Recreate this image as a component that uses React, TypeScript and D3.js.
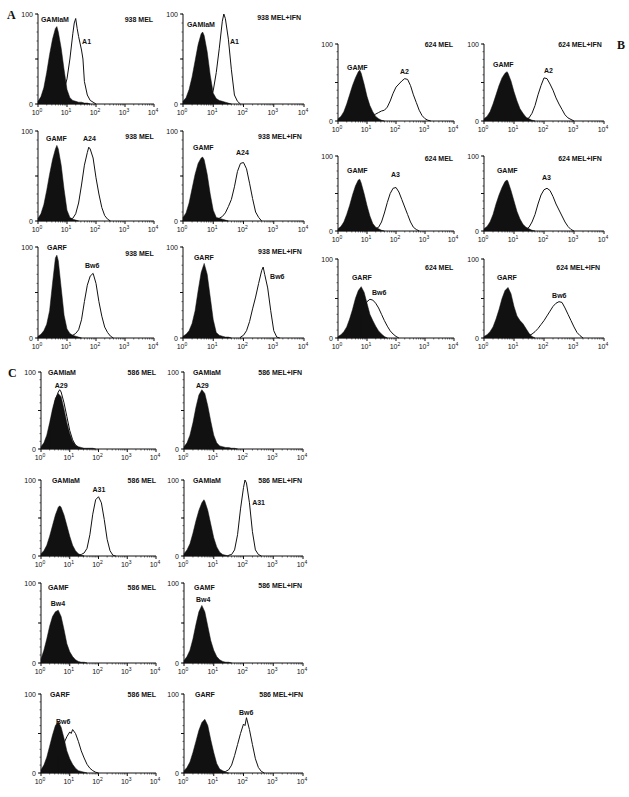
import React from "react";
import * as d3 from "d3";

type Pt = [number, number]; // [log10 fluorescence, % of max]

// ---------- Panel A: 938 MEL ----------
const a1Fill: Pt[] = [[0,3],[0.1,8],[0.2,18],[0.3,35],[0.4,55],[0.5,72],[0.6,84],[0.65,86],[0.7,80],[0.8,62],[0.9,38],[1.0,16],[1.1,7],[1.2,4],[1.3,3],[1.4,2],[1.5,2],[1.6,1],[1.7,1],[1.8,0]];
const a1Open: Pt[] = [[0.6,2],[0.7,4],[0.8,8],[0.9,16],[1.0,28],[1.1,50],[1.2,78],[1.25,90],[1.3,95],[1.35,84],[1.4,75],[1.5,60],[1.55,50],[1.6,25],[1.7,10],[1.8,4],[1.9,2],[2.0,0]];
const a2Fill: Pt[] = [[0,3],[0.1,7],[0.2,16],[0.3,30],[0.4,48],[0.5,66],[0.6,78],[0.65,80],[0.7,76],[0.8,58],[0.9,32],[1.0,12],[1.1,6],[1.2,4],[1.3,3],[1.4,2],[1.5,1],[1.6,0]];
const a2Open: Pt[] = [[0.8,2],[0.9,6],[1.0,15],[1.1,35],[1.2,62],[1.3,92],[1.35,100],[1.4,95],[1.5,72],[1.6,38],[1.7,10],[1.8,3],[1.9,0]];
const a3Fill: Pt[] = [[0,3],[0.1,8],[0.2,18],[0.3,34],[0.4,52],[0.5,68],[0.6,80],[0.65,84],[0.7,80],[0.8,62],[0.9,35],[1.0,12],[1.1,4],[1.2,2],[1.3,1],[1.4,0]];
const a3Open: Pt[] = [[1.0,1],[1.1,2],[1.2,3],[1.3,8],[1.4,20],[1.5,40],[1.6,62],[1.7,76],[1.75,82],[1.8,80],[1.9,70],[2.0,48],[2.1,30],[2.2,15],[2.3,6],[2.4,2],[2.5,0]];
const a4Fill: Pt[] = [[0,4],[0.1,9],[0.2,20],[0.3,36],[0.4,52],[0.5,64],[0.6,70],[0.65,71],[0.7,68],[0.8,52],[0.9,30],[1.0,12],[1.1,4],[1.2,3],[1.3,2],[1.4,1],[1.5,0]];
const a4Open: Pt[] = [[1.1,2],[1.2,3],[1.3,5],[1.4,9],[1.5,16],[1.6,24],[1.7,38],[1.8,55],[1.9,64],[2.0,65],[2.1,58],[2.2,42],[2.3,25],[2.4,10],[2.5,4],[2.6,0]];
const a5Fill: Pt[] = [[0,2],[0.1,4],[0.2,8],[0.3,15],[0.4,30],[0.5,60],[0.6,88],[0.65,91],[0.7,85],[0.8,55],[0.9,25],[1.0,10],[1.1,5],[1.2,3],[1.3,2],[1.4,1],[1.5,0]];
const a5Open: Pt[] = [[1.1,2],[1.2,3],[1.3,5],[1.4,9],[1.5,20],[1.6,40],[1.7,58],[1.8,68],[1.9,71],[2.0,60],[2.1,40],[2.2,24],[2.3,12],[2.4,6],[2.5,2],[2.6,0]];
const a6Fill: Pt[] = [[0,2],[0.1,4],[0.2,8],[0.3,16],[0.4,30],[0.5,52],[0.6,72],[0.7,82],[0.8,70],[0.9,45],[1.0,20],[1.1,6],[1.2,3],[1.3,2],[1.4,1],[1.5,1],[1.6,0]];
const a6Open: Pt[] = [[1.9,1],[2.0,3],[2.1,8],[2.2,18],[2.3,32],[2.4,45],[2.5,60],[2.6,74],[2.65,78],[2.7,70],[2.8,55],[2.9,30],[3.0,8],[3.1,1],[3.2,0]];

// ---------- Panel B: 624 MEL ----------
const b1Fill: Pt[] = [[0,3],[0.1,6],[0.2,12],[0.3,22],[0.4,34],[0.5,46],[0.6,56],[0.7,64],[0.75,66],[0.8,62],[0.9,48],[1.0,32],[1.1,20],[1.2,12],[1.3,6],[1.4,3],[1.5,1],[1.6,0]];
const b1Open: Pt[] = [[1.2,6],[1.3,9],[1.4,11],[1.5,13],[1.6,14],[1.7,18],[1.8,26],[1.9,36],[2.0,44],[2.1,48],[2.2,52],[2.3,55],[2.4,54],[2.5,46],[2.6,34],[2.7,24],[2.8,14],[2.9,7],[3.0,3],[3.1,1],[3.2,0]];
const b2Fill: Pt[] = [[0,3],[0.1,6],[0.2,12],[0.3,22],[0.4,34],[0.5,46],[0.6,56],[0.7,62],[0.77,64],[0.8,62],[0.9,52],[1.0,38],[1.1,26],[1.2,16],[1.3,10],[1.4,5],[1.5,3],[1.6,1],[1.7,0]];
const b2Open: Pt[] = [[1.4,2],[1.5,4],[1.6,10],[1.7,20],[1.8,34],[1.9,46],[2.0,56],[2.1,55],[2.2,48],[2.3,40],[2.4,30],[2.5,22],[2.6,15],[2.7,8],[2.8,4],[2.9,2],[3.0,0]];
const b3Fill: Pt[] = [[0,3],[0.1,6],[0.2,12],[0.3,22],[0.4,34],[0.5,48],[0.6,60],[0.7,68],[0.75,69],[0.8,64],[0.9,50],[1.0,34],[1.1,20],[1.2,10],[1.3,5],[1.4,3],[1.5,1],[1.6,0]];
const b3Open: Pt[] = [[1.3,3],[1.4,5],[1.5,12],[1.6,24],[1.7,38],[1.8,50],[1.9,57],[2.0,58],[2.1,52],[2.2,42],[2.3,32],[2.4,22],[2.5,12],[2.6,5],[2.7,2],[2.8,0]];
const b4Fill: Pt[] = [[0,3],[0.1,6],[0.2,12],[0.3,22],[0.4,36],[0.5,48],[0.6,58],[0.7,66],[0.77,68],[0.8,66],[0.9,54],[1.0,40],[1.1,26],[1.2,16],[1.3,9],[1.4,5],[1.5,3],[1.6,1],[1.7,0]];
const b4Open: Pt[] = [[1.4,2],[1.5,5],[1.6,12],[1.7,22],[1.8,36],[1.9,48],[2.0,55],[2.1,57],[2.2,54],[2.3,46],[2.4,36],[2.5,28],[2.6,20],[2.7,12],[2.8,6],[2.9,2],[3.0,0]];
const b5Fill: Pt[] = [[0,2],[0.1,4],[0.2,8],[0.3,14],[0.4,24],[0.5,36],[0.6,50],[0.7,60],[0.8,65],[0.9,58],[1.0,44],[1.1,30],[1.2,22],[1.3,15],[1.4,9],[1.5,5],[1.6,2],[1.7,0]];
const b5Open: Pt[] = [[0.8,30],[0.9,40],[1.0,46],[1.1,49],[1.2,48],[1.3,44],[1.4,38],[1.5,30],[1.6,22],[1.7,15],[1.8,9],[1.9,5],[2.0,2],[2.1,0]];
const b6Fill: Pt[] = [[0,2],[0.1,4],[0.2,8],[0.3,14],[0.4,24],[0.5,36],[0.6,50],[0.7,60],[0.8,64],[0.9,56],[1.0,40],[1.1,28],[1.2,22],[1.3,18],[1.4,12],[1.5,6],[1.6,2],[1.7,0]];
const b6Open: Pt[] = [[1.5,3],[1.6,5],[1.7,8],[1.8,12],[1.9,17],[2.0,22],[2.1,28],[2.2,34],[2.3,40],[2.4,44],[2.5,46],[2.6,45],[2.7,38],[2.8,30],[2.9,22],[3.0,14],[3.1,7],[3.2,3],[3.3,0]];

// ---------- Panel C: 586 MEL ----------
const c1Fill: Pt[] = [[0,3],[0.1,8],[0.2,18],[0.3,34],[0.4,52],[0.5,66],[0.6,72],[0.7,68],[0.8,52],[0.9,34],[1.0,20],[1.1,10],[1.2,5],[1.3,3],[1.4,2],[1.5,1],[1.6,1],[1.7,1],[1.8,1],[1.9,0]];
const c1Open: Pt[] = [[0.3,28],[0.4,46],[0.5,64],[0.6,74],[0.65,77],[0.7,74],[0.8,60],[0.9,42],[1.0,24],[1.1,12],[1.2,5],[1.3,2],[1.4,0]];
const c2Fill: Pt[] = [[0,3],[0.1,8],[0.2,18],[0.3,34],[0.4,54],[0.5,70],[0.6,77],[0.7,72],[0.8,56],[0.9,36],[1.0,18],[1.1,8],[1.2,4],[1.3,3],[1.4,2],[1.5,2],[1.6,1],[1.7,1],[1.8,0]];
const c3Fill: Pt[] = [[0,3],[0.1,7],[0.2,14],[0.3,26],[0.4,40],[0.5,54],[0.6,64],[0.65,66],[0.7,64],[0.8,54],[0.9,40],[1.0,26],[1.1,14],[1.2,7],[1.3,3],[1.4,1],[1.5,0]];
const c3Open: Pt[] = [[1.3,1],[1.4,2],[1.5,4],[1.6,10],[1.7,28],[1.8,55],[1.9,74],[2.0,78],[2.1,70],[2.2,48],[2.3,22],[2.4,7],[2.5,1],[2.6,0]];
const c4Fill: Pt[] = [[0,3],[0.1,8],[0.2,16],[0.3,30],[0.4,46],[0.5,60],[0.6,70],[0.67,74],[0.7,72],[0.8,60],[0.9,42],[1.0,24],[1.1,12],[1.2,5],[1.3,2],[1.4,1],[1.5,0]];
const c4Open: Pt[] = [[1.5,1],[1.6,2],[1.7,8],[1.8,28],[1.9,62],[2.0,90],[2.05,100],[2.1,96],[2.2,70],[2.3,32],[2.4,8],[2.5,2],[2.6,0]];
const c5Fill: Pt[] = [[0,5],[0.1,16],[0.2,30],[0.3,46],[0.4,58],[0.5,64],[0.6,66],[0.7,58],[0.8,42],[0.9,24],[1.0,14],[1.1,8],[1.2,4],[1.3,2],[1.4,1],[1.5,1],[1.6,0]];
const c6Fill: Pt[] = [[0,3],[0.1,8],[0.2,16],[0.3,30],[0.4,48],[0.5,64],[0.6,72],[0.7,64],[0.8,46],[0.9,28],[1.0,16],[1.1,8],[1.2,4],[1.3,2],[1.4,1],[1.5,1],[1.6,0]];
const c7Fill: Pt[] = [[0,4],[0.1,10],[0.2,20],[0.3,34],[0.4,48],[0.5,60],[0.6,65],[0.7,58],[0.8,44],[0.9,28],[1.0,18],[1.1,11],[1.2,6],[1.3,3],[1.4,2],[1.5,1],[1.6,0]];
const c7Open: Pt[] = [[0.6,20],[0.7,28],[0.8,38],[0.9,46],[1.0,52],[1.05,50],[1.1,55],[1.2,50],[1.3,40],[1.4,28],[1.5,19],[1.6,11],[1.7,6],[1.8,3],[1.9,1],[2.0,0]];
const c8Fill: Pt[] = [[0,3],[0.1,7],[0.2,14],[0.3,26],[0.4,40],[0.5,54],[0.6,64],[0.7,68],[0.8,60],[0.9,42],[1.0,26],[1.1,12],[1.2,5],[1.3,3],[1.4,1],[1.5,0]];
const c8Open: Pt[] = [[1.3,1],[1.4,2],[1.5,4],[1.6,10],[1.7,22],[1.8,36],[1.9,50],[2.0,62],[2.05,60],[2.1,70],[2.2,55],[2.3,36],[2.4,18],[2.5,7],[2.6,2],[2.7,0]];

const xTickExps = [0, 1, 2, 3, 4];
const yTickVals = [0, 50, 100];
const yTickLabels = ["0", "", "100"];

type Lab = { t: string; lx: number; py: number; end?: boolean };
type Panel = { x0: number; x1: number; top: number; base: number; fill: Pt[]; open: Pt[] | null; labels: Lab[] };

const colA = [[38, 154], [183, 304]];
const rowA = [[14, 104], [131, 221], [247, 338]];
const colB = [[338, 454], [484, 604]];
const rowB = [[44, 121], [156, 231], [259, 338]];
const colC = [[41, 156], [184, 303]];
const rowC = [[372, 449], [480, 556], [583, 663], [694, 773]];

const mk = (c: number[], r: number[], fill: Pt[], open: Pt[] | null, labels: Lab[]): Panel => ({ x0: c[0], x1: c[1], top: r[0], base: r[1], fill, open, labels });

const PANELS: Panel[] = [
  mk(colA[0], rowA[0], a1Fill, a1Open, [{ t: "GAMIaM", lx: 0.1, py: 94 }, { t: "A1", lx: 1.52, py: 69 }, { t: "938 MEL", lx: 3.97, py: 94, end: true }]),
  mk(colA[1], rowA[0], a2Fill, a2Open, [{ t: "GAMIaM", lx: 0.13, py: 88 }, { t: "A1", lx: 1.55, py: 69 }, { t: "938 MEL+IFN", lx: 3.9, py: 96, end: true }]),
  mk(colA[0], rowA[1], a3Fill, a3Open, [{ t: "GAMF", lx: 0.28, py: 92 }, { t: "A24", lx: 1.55, py: 92 }, { t: "938 MEL", lx: 3.99, py: 94, end: true }]),
  mk(colA[1], rowA[1], a4Fill, a4Open, [{ t: "GAMF", lx: 0.33, py: 82 }, { t: "A24", lx: 1.75, py: 76 }, { t: "938 MEL+IFN", lx: 3.93, py: 94, end: true }]),
  mk(colA[0], rowA[2], a5Fill, a5Open, [{ t: "GARF", lx: 0.31, py: 99 }, { t: "Bw6", lx: 1.62, py: 80 }, { t: "938 MEL", lx: 3.99, py: 93, end: true }]),
  mk(colA[1], rowA[2], a6Fill, a6Open, [{ t: "GARF", lx: 0.36, py: 88 }, { t: "Bw6", lx: 2.88, py: 68 }, { t: "938 MEL+IFN", lx: 3.93, py: 95, end: true }]),
  mk(colB[0], rowB[0], b1Fill, b1Open, [{ t: "GAMF", lx: 0.31, py: 70 }, { t: "A2", lx: 2.14, py: 64 }, { t: "624 MEL", lx: 3.97, py: 99, end: true }]),
  mk(colB[1], rowB[0], b2Fill, b2Open, [{ t: "GAMF", lx: 0.3, py: 73 }, { t: "A2", lx: 2.0, py: 65 }, { t: "624 MEL+IFN", lx: 3.93, py: 99, end: true }]),
  mk(colB[0], rowB[1], b3Fill, b3Open, [{ t: "GAMF", lx: 0.31, py: 81 }, { t: "A3", lx: 1.83, py: 75 }, { t: "624 MEL", lx: 3.97, py: 97, end: true }]),
  mk(colB[1], rowB[1], b4Fill, b4Open, [{ t: "GAMF", lx: 0.43, py: 81 }, { t: "A3", lx: 1.93, py: 71 }, { t: "624 MEL+IFN", lx: 3.93, py: 97, end: true }]),
  mk(colB[0], rowB[2], b5Fill, b5Open, [{ t: "GARF", lx: 0.48, py: 76 }, { t: "Bw6", lx: 1.17, py: 58 }, { t: "624 MEL", lx: 3.98, py: 89, end: true }]),
  mk(colB[1], rowB[2], b6Fill, b6Open, [{ t: "GARF", lx: 0.43, py: 76 }, { t: "Bw6", lx: 2.27, py: 54 }, { t: "624 MEL+IFN", lx: 3.87, py: 89, end: true }]),
  mk(colC[0], rowC[0], c1Fill, c1Open, [{ t: "GAMIaM", lx: 0.24, py: 100 }, { t: "A29", lx: 0.48, py: 82 }, { t: "586 MEL", lx: 4.0, py: 100, end: true }]),
  mk(colC[1], rowC[0], c2Fill, null, [{ t: "GAMIaM", lx: 0.3, py: 100 }, { t: "A29", lx: 0.4, py: 82 }, { t: "586 MEL+IFN", lx: 3.97, py: 100, end: true }]),
  mk(colC[0], rowC[1], c3Fill, c3Open, [{ t: "GAMIaM", lx: 0.38, py: 100 }, { t: "A31", lx: 1.79, py: 88 }, { t: "586 MEL", lx: 4.0, py: 100, end: true }]),
  mk(colC[1], rowC[1], c4Fill, c4Open, [{ t: "GAMIaM", lx: 0.3, py: 100 }, { t: "A31", lx: 2.29, py: 70 }, { t: "586 MEL+IFN", lx: 3.97, py: 100, end: true }]),
  mk(colC[0], rowC[2], c5Fill, null, [{ t: "GAMF", lx: 0.24, py: 95 }, { t: "Bw4", lx: 0.34, py: 74 }, { t: "586 MEL", lx: 4.0, py: 95, end: true }]),
  mk(colC[1], rowC[2], c6Fill, null, [{ t: "GAMF", lx: 0.34, py: 95 }, { t: "Bw4", lx: 0.4, py: 80 }, { t: "586 MEL+IFN", lx: 3.97, py: 97, end: true }]),
  mk(colC[0], rowC[3], c7Fill, c7Open, [{ t: "GARF", lx: 0.31, py: 100 }, { t: "Bw6", lx: 0.52, py: 65 }, { t: "586 MEL", lx: 4.0, py: 100, end: true }]),
  mk(colC[1], rowC[3], c8Fill, c8Open, [{ t: "GARF", lx: 0.37, py: 100 }, { t: "Bw6", lx: 1.85, py: 77 }, { t: "586 MEL+IFN", lx: 4.0, py: 100, end: true }]),
];

const SANS = "'Liberation Sans', Arial, sans-serif";
const SERIF = "'Liberation Serif', 'Times New Roman', serif";

function Hist({ p }: { p: Panel }) {
  const xs = d3.scaleLog().domain([1, 10000]).range([p.x0, p.x1]);
  const ys = d3.scaleLinear().domain([0, 100]).range([p.base, p.top]);
  const area = d3.area<Pt>().x(d => xs(Math.pow(10, d[0]))).y0(p.base).y1(d => ys(d[1]));
  const line = d3.line<Pt>().x(d => xs(Math.pow(10, d[0]))).y(d => ys(d[1]));
  const openPts: Pt[] | null = p.open ? [[p.open[0][0], 0], ...p.open] : null;
  const minor: number[] = [];
  for (let e = 0; e < 4; e++) for (let m = 2; m <= 9; m++) minor.push(m * Math.pow(10, e));
  const yMinor = d3.range(0, 101, 10);
  return (
    <g>
      <path d={area(p.fill) || ""} fill="#111" stroke="#111" strokeWidth={0.5} />
      {openPts && <path d={line(openPts) || ""} fill="none" stroke="#111" strokeWidth={1} />}
      {/* axes */}
      <line x1={p.x0} x2={p.x1} y1={p.base} y2={p.base} stroke="#111" strokeWidth={1} />
      <line x1={p.x0} x2={p.x0} y1={p.base} y2={p.top} stroke="#111" strokeWidth={1} />
      {xTickExps.map(e => (
        <g key={"xt" + e}>
          <line x1={xs(Math.pow(10, e))} x2={xs(Math.pow(10, e))} y1={p.base} y2={p.base + 3} stroke="#111" strokeWidth={1} />
          <text x={xs(Math.pow(10, e)) - 1} y={p.base + 11} fontSize={7} fontFamily={SANS} textAnchor="middle" fill="#111">
            10<tspan fontSize={5} dy={-3}>{e}</tspan>
          </text>
        </g>
      ))}
      {minor.map(v => (
        <line key={"xm" + v} x1={xs(v)} x2={xs(v)} y1={p.base} y2={p.base + 1.5} stroke="#111" strokeWidth={0.6} />
      ))}
      {yMinor.map(v => (
        <line key={"ym" + v} x1={p.x0 - 1.5} x2={p.x0} y1={ys(v)} y2={ys(v)} stroke="#111" strokeWidth={0.6} />
      ))}
      {yTickVals.map((v, i) => (
        <g key={"yt" + v}>
          <line x1={p.x0 - 3} x2={p.x0} y1={ys(v)} y2={ys(v)} stroke="#111" strokeWidth={1} />
          <text x={p.x0 - 5} y={ys(v) + 2.5} fontSize={7} fontFamily={SANS} textAnchor="end" fill="#111">{yTickLabels[i]}</text>
        </g>
      ))}
      {p.labels.map((l, i) => (
        <text key={"l" + i} x={xs(Math.pow(10, l.lx))} y={ys(l.py) + 2.5} fontSize={7} fontWeight="bold" fontFamily={SANS}
          textAnchor={l.end ? "end" : "start"} fill="#111">{l.t}</text>
      ))}
    </g>
  );
}

export default function App() {
  return (
    <svg width={629} height={797} style={{ position: "absolute", left: 0, top: 0, background: "#fff" }}>
      <rect width={629} height={797} fill="#fff" />
      {PANELS.map((p, i) => <Hist key={i} p={p} />)}
      <text x={7} y={19} fontSize={12} fontWeight="bold" fontFamily={SERIF} fill="#111">A</text>
      <text x={617} y={49} fontSize={12} fontWeight="bold" fontFamily={SERIF} fill="#111">B</text>
      <text x={8} y={377} fontSize={12} fontWeight="bold" fontFamily={SERIF} fill="#111">C</text>
    </svg>
  );
}
